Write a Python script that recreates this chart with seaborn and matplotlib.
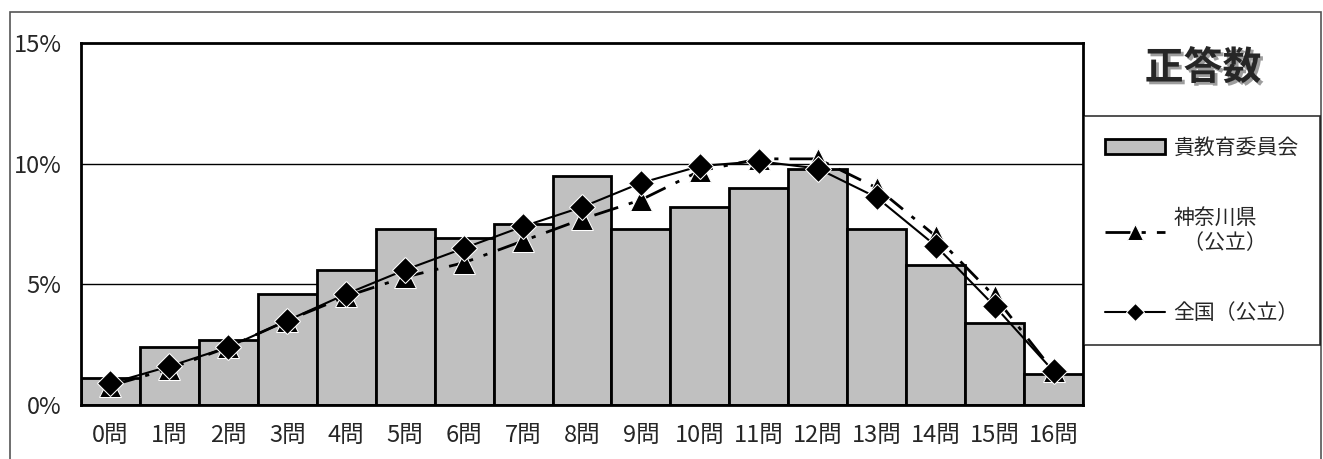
import matplotlib
matplotlib.use("Agg")
import matplotlib.pyplot as plt
import matplotlib.patheffects as pe
from matplotlib.patches import Rectangle
import seaborn as sns
import pandas as pd

# 正答数ごとの生徒の割合 (%)
categories = ["0問", "1問", "2問", "3問", "4問", "5問", "6問", "7問", "8問",
              "9問", "10問", "11問", "12問", "13問", "14問", "15問", "16問"]
kyoiku = [1.1, 2.4, 2.7, 4.6, 5.6, 7.3, 6.9, 7.5, 9.5, 7.3, 8.2, 9.0, 9.8, 7.3, 5.8, 3.4, 1.3]
kanagawa = [0.8, 1.5, 2.4, 3.5, 4.5, 5.3, 5.9, 6.8, 7.7, 8.5, 9.7, 10.2, 10.2, 9.0, 7.0, 4.5, 1.4]
zenkoku = [0.9, 1.6, 2.4, 3.5, 4.6, 5.6, 6.5, 7.4, 8.2, 9.2, 9.9, 10.1, 9.8, 8.6, 6.6, 4.1, 1.4]
yticks = [0, 5, 10, 15]
ytick_labels = ["0%", "5%", "10%", "15%"]

sns.set_style("white")
plt.rcParams["font.family"] = ["Noto Sans CJK JP", "DejaVu Sans"]

df = pd.DataFrame({"問": categories, "貴教育委員会": kyoiku,
                   "神奈川県": kanagawa, "全国": zenkoku})
df["pos"] = range(len(df))

fig = plt.figure(figsize=(13.23, 4.59), dpi=100)
ax = fig.add_axes([0.0612, 0.1176, 0.7574, 0.7887])

for y in [5, 10]:
    ax.axhline(y, color="black", lw=1, zorder=0)

sns.barplot(data=df, x="問", y="貴教育委員会", color="#c0c0c0", width=1.0,
            edgecolor="black", linewidth=2, saturation=1, ax=ax, zorder=2)
bars = ax.containers[0]

sns.lineplot(data=df, x="pos", y="神奈川県", color="black", lw=2,
             marker="^", markersize=16, dashes=False, ax=ax, zorder=3)
ax.lines[-1].set_dashes([9, 4, 1.5, 4])
line_k = ax.lines[-1]
sns.lineplot(data=df, x="pos", y="全国", color="black", lw=1.5,
             marker="D", markersize=13, ax=ax, zorder=4)
line_n = ax.lines[-1]

ax.set_xlim(-0.5, len(categories) - 0.5)
ax.set_ylim(0, 15)
ax.set_yticks(yticks)
ax.set_yticklabels(ytick_labels, fontsize=17)
ax.set_xticks(range(len(categories)))
ax.set_xticklabels(categories, fontsize=17)
ax.tick_params(axis="x", length=0, pad=14)
ax.tick_params(axis="y", length=0, pad=14)
ax.set_xlabel("")
ax.set_ylabel("")
for s in ax.spines.values():
    s.set_visible(True)
    s.set_color("black")
    s.set_linewidth(2)

# 外枠
fig.patches.append(Rectangle((10 / 1323, -0.1), 1311 / 1323, 0.1 + (459 - 12) / 459,
                             transform=fig.transFigure, fill=False,
                             edgecolor="#555555", lw=1.2))

fig.text(1203 / 1323, (459 - 68) / 459, "正答数", fontsize=28, fontweight="bold",
         ha="center", va="center",
         path_effects=[pe.withSimplePatchShadow(offset=(2, -2), alpha=0.4)])

leg = fig.legend([bars, line_k, line_n],
                 ["貴教育委員会", "神奈川県\n  （公立）", "全国（公立）"],
                 loc="upper left", bbox_to_anchor=(1084 / 1323, (459 - 116) / 459),
                 fontsize=15, frameon=True, fancybox=False, edgecolor="black",
                 handlelength=2.9, handletextpad=0.4, labelspacing=2.3,
                 borderpad=1.0, borderaxespad=0, markerscale=0.7)
leg.get_frame().set_linewidth(1.2)

fig.savefig("out.png", dpi=100)
